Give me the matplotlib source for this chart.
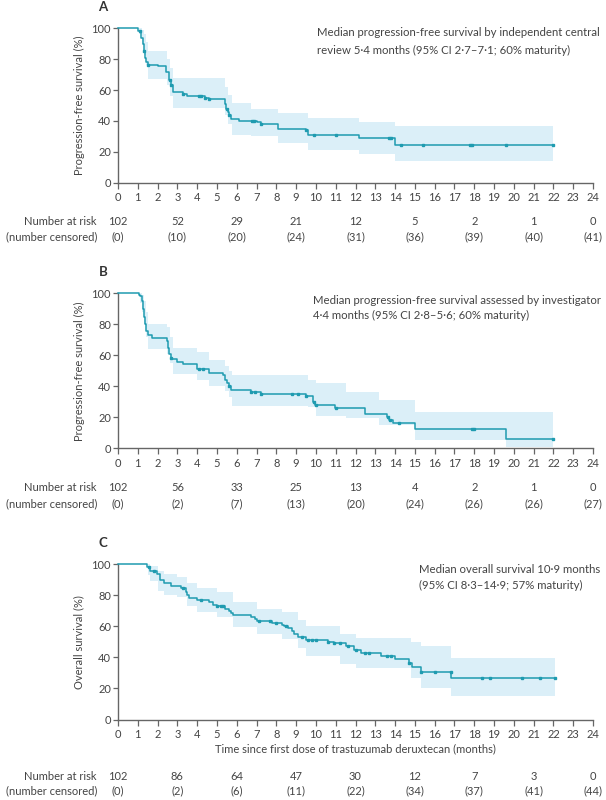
import numpy as np
import matplotlib
matplotlib.use("Agg")
import matplotlib.pyplot as plt
import matplotlib.transforms as mtransforms

plt.rcParams['font.family'] = ['Lato', 'DejaVu Sans']

# ---------------- data ----------------
risk_times = [0, 3, 6, 9, 12, 15, 18, 21, 24]

# Panel A: PFS by independent central review
a_t = [0, 1.0, 1.15, 1.25, 1.3, 1.35, 1.4, 1.5, 2.0, 2.45, 2.6, 2.7, 2.8, 3.3, 3.5, 4.4, 4.6, 5.4, 5.45, 5.55,
       5.6, 5.7, 5.75, 6.1, 7.0, 7.2, 8.1, 9.5, 9.6, 12.2, 14.0, 22.0]
a_s = [100, 98, 94, 90, 85, 81, 78, 76.5, 75.5, 72, 66.5, 63, 58.5, 57.5, 56, 55, 54, 51, 48, 46,
       44, 41.5, 41, 40, 39, 38, 35, 34, 31, 28.8, 24.4, 24.4]
a_bt = [0, 1.05, 1.2, 1.3, 1.4, 1.5, 2.5, 2.65, 2.8, 5.4, 5.55, 5.75, 6.7, 8.1, 9.6, 12.2, 14.0, 22.0]
a_up = [100, 100, 99, 96, 91, 85, 80, 74, 67.5, 62, 57, 51.5, 48, 45, 41.7, 39.5, 36.8, 36.8]
a_lo = [100, 96, 89, 83, 76, 67, 63, 56, 48.5, 44, 38, 31, 30, 25.5, 21, 18.7, 14.2, 14.2]
a_cens = [1.1, 1.3, 1.5, 2.65, 2.7, 3.3, 4.1, 4.2, 4.4, 4.6, 5.5, 5.6, 6.75, 6.85, 7.2, 9.5, 9.9, 11.0,
          13.7, 13.8, 14.3, 15.4, 17.8, 17.9, 19.6, 22.0]
a_risk = [102, 52, 29, 21, 12, 5, 2, 1, 0]
a_censn = [0, 10, 20, 24, 31, 36, 39, 40, 41]

# Panel B: PFS assessed by investigator
b_t = [0, 1.05, 1.1, 1.2, 1.25, 1.3, 1.35, 1.4, 1.5, 1.7, 2.5, 2.55, 2.6, 2.7, 2.75, 3.0, 3.3, 4.0, 4.6, 5.3,
       5.4, 5.5, 5.6, 5.7, 6.7, 7.2, 9.5, 9.85, 9.95, 10.95, 12.5, 13.6, 13.7, 13.9, 15.0, 19.6, 22.0]
b_s = [100, 99, 98, 95, 90, 85, 80, 76, 73, 71, 69, 65, 61, 58, 57.5, 56, 54.5, 51, 48.5, 47,
       44, 42, 40, 37.8, 36.5, 35, 33.5, 30, 28, 26.2, 22, 20.2, 18, 16.3, 12.7, 6.3, 6.3]
b_bt = [0, 1.1, 1.2, 1.3, 1.4, 1.5, 2.5, 2.65, 2.8, 4.0, 4.6, 5.4, 5.6, 5.75, 9.6, 10.0, 11.5, 13.2, 15.0, 19.6, 22.0]
b_up = [100, 100, 99, 95, 88, 80, 78.5, 72, 65, 62, 57, 53, 50, 47, 44, 42, 36.3, 31, 23.4, 23.4, 23.4]
b_lo = [100, 94, 88, 80, 72, 64, 61, 55, 48, 44, 40, 37, 33, 27.5, 26.7, 21, 19.4, 14.8, 5.2, 1.0, 1.0]
b_cens = [2.7, 4.1, 4.3, 5.6, 6.7, 6.9, 7.2, 8.8, 9.1, 9.5, 9.9, 10.0, 11.0, 13.65, 13.75, 14.2, 17.9, 18.0, 22.0]
b_risk = [102, 56, 33, 25, 13, 4, 2, 1, 0]
b_censn = [0, 2, 7, 13, 20, 24, 26, 26, 27]

# Panel C: overall survival
c_t = [0, 1.46, 1.6, 1.95, 2.1, 2.3, 2.7, 3.2, 3.45, 3.5, 3.6, 4.0, 4.6, 4.8, 5.0, 5.4, 5.6, 5.7, 5.8, 6.7,
       6.9, 7.0, 7.8, 8.3, 8.4, 8.6, 8.8, 8.9, 9.1, 9.5, 10.6, 10.9, 11.5, 11.9, 12.3, 13.3, 14.0, 14.7, 14.85, 15.3,
       16.85, 22.1]
c_s = [100, 98, 96, 94, 90, 88, 86, 85, 82, 80, 78, 77, 75.5, 74, 73, 71, 70, 68.5, 67.5, 66,
       64.5, 63.5, 62.5, 61, 60, 59, 57, 55, 53, 51, 50, 49, 47.4, 44.8, 43, 41, 39.2, 36.6, 33.8, 30.7,
       26.8, 26.8]
c_bt = [0, 1.5, 1.6, 2.0, 2.3, 3.0, 3.5, 4.0, 5.0, 5.8, 7.0, 8.3, 9.1, 9.5, 11.2, 12.0, 14.8, 15.3, 16.85, 22.1]
c_up = [100, 100, 99, 96, 94, 92, 88, 85, 82, 76, 71.4, 69, 64, 60.5, 55, 52.8, 50, 47.4, 39.8, 39.8]
c_lo = [100, 93, 89, 83, 80, 79, 73, 69, 66, 59.5, 55, 52, 46, 41, 36, 33.3, 27, 20.3, 15.4, 15.4]
c_cens = [1.55, 1.8, 3.3, 4.2, 5.0, 5.2, 5.3, 7.1, 7.7, 8.0, 8.5, 9.3, 9.6, 9.8, 10.0, 10.6, 10.9, 11.2, 11.6,
          12.0, 12.5, 12.7, 13.6, 13.8, 14.7, 15.3, 16.0, 16.8, 18.4, 18.8, 20.4, 21.3, 22.1]
c_risk = [102, 86, 64, 47, 30, 12, 7, 3, 0]
c_censn = [0, 2, 6, 11, 22, 34, 37, 41, 44]

# ---------------- style ----------------
W, H = 606, 800
LINE = '#1f9bb0'
BAND = '#dbeff8'
TXT = '#444444'
AX = '#666666'
FS = 8.0
FS_NOTE = 8.2

fig = plt.figure(figsize=(W / 100, H / 100), dpi=100)


def fy(py):
    return 1 - py / H


def make_panel(top, bottom, t, s, bt, lo, up, cens, risk, censn, label, ylabel, notes, note_x, note_y,
               risk_y, cens_y, xlabel=None):
    left, right = 118, 593
    ax = fig.add_axes([left / W, fy(bottom), (right - left) / W, (bottom - top) / H])
    ax.fill_between(bt, lo, up, step='post', color=BAND, lw=0, zorder=1)
    ax.step(t, s, where='post', color=LINE, lw=1.1, zorder=3, clip_on=False)
    t_arr = np.array(t)
    s_arr = np.array(s)
    idx = np.searchsorted(t_arr, cens, side='right') - 1
    ax.plot(cens, s_arr[idx], ls='none', marker='s', ms=1.7, color=LINE, mec=LINE, zorder=4, clip_on=False)

    ax.set_xlim(0, 24)
    ax.set_ylim(0, 100)
    ax.set_xticks(range(0, 25))
    ax.set_yticks(range(0, 101, 20))
    for sp in ['top', 'right']:
        ax.spines[sp].set_visible(False)
    for sp in ['left', 'bottom']:
        ax.spines[sp].set_color(AX)
        ax.spines[sp].set_linewidth(1.0)
    ax.tick_params(axis='x', length=4.5, width=0.9, color=AX, labelsize=FS, labelcolor=TXT, pad=2.5)
    ax.tick_params(axis='y', length=3.5, width=0.9, color=AX, labelsize=FS, labelcolor=TXT, pad=1.5)
    ax.set_ylabel(ylabel, fontsize=FS, color=TXT, labelpad=5)
    ax.patch.set_alpha(0)

    fig.text(103 / W, fy(top - 21), label, fontsize=9.5, fontweight='bold', color='#333333',
             ha='center', va='center')
    for line, yy in zip(notes, note_y):
        fig.text(note_x / W, fy(yy), line, fontsize=FS_NOTE, color=TXT, ha='left', va='center')

    trans = mtransforms.blended_transform_factory(ax.transData, fig.transFigure)
    fig.text(97 / W, fy(risk_y), 'Number at risk', fontsize=FS, color=TXT, ha='right', va='center')
    fig.text(97 / W, fy(cens_y), '(number censored)', fontsize=FS, color=TXT, ha='right', va='center')
    for x, r, c in zip(risk_times, risk, censn):
        ax.text(x, fy(risk_y), str(r), transform=trans, fontsize=FS, color=TXT, ha='center', va='center')
        ax.text(x, fy(cens_y), f'({c})', transform=trans, fontsize=FS, color=TXT, ha='center', va='center')
    if xlabel:
        ax.text(12, fy(749), xlabel, transform=trans, fontsize=FS, color=TXT, ha='center', va='center')
    return ax


make_panel(28.3, 182.7, a_t, a_s, a_bt, a_lo, a_up, a_cens, a_risk, a_censn, 'A',
           'Progression-free survival (%)',
           ['Median progression-free survival by independent central',
            'review 5·4 months (95% CI 2·7–7·1; 60% maturity)'], 317, [33, 50],
           221.7, 236.7)

make_panel(293.3, 448.3, b_t, b_s, b_bt, b_lo, b_up, b_cens, b_risk, b_censn, 'B',
           'Progression-free survival (%)',
           ['Median progression-free survival assessed by investigator',
            '4·4 months (95% CI 2·8–5·6; 60% maturity)'], 313, [300, 315.5],
           487.7, 503.3)

make_panel(564.3, 719.5, c_t, c_s, c_bt, c_lo, c_up, c_cens, c_risk, c_censn, 'C',
           'Overall survival (%)',
           ['Median overall survival 10·9 months',
            '(95% CI 8·3–14·9; 57% maturity)'], 419, [569.5, 585.5],
           776.7, 791, xlabel='Time since first dose of trastuzumab deruxtecan (months)')

fig.savefig('out.png', dpi=100, facecolor='white')
